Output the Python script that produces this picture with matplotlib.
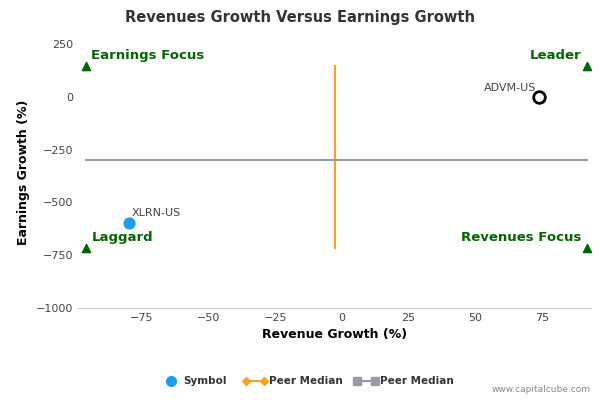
import numpy as np
import matplotlib.pyplot as plt

symbols = ["XLRN-US", "ADVM-US"]
revenue_growth = [-80, 74]
earnings_growth = [-597, 0]
peer_median_x = -2.5
peer_median_y = -297
x_range = [-96, 92]
y_range = [-717, 145]
xticks = [-75, -50, -25, 0, 25, 50, 75]
yticks = [250, 0, -250, -500, -750, -1000]

fig = plt.figure(figsize=(6, 4), dpi=100)
ax = fig.add_axes([0.13, 0.23, 0.855, 0.68])
green = "#006600"

ax.plot([peer_median_x, peer_median_x], y_range, color="#FFA020", lw=1.5, zorder=2)
ax.plot(x_range, [peer_median_y, peer_median_y], color="#9A9AA6", lw=1.5, zorder=2)

ax.scatter([revenue_growth[0]], [earnings_growth[0]], s=60, color="#1E9DEB", zorder=3)
ax.scatter([revenue_growth[1]], [earnings_growth[1]], s=70, facecolor="white",
           edgecolor="black", linewidth=2, zorder=3)
ax.text(revenue_growth[0] + 1, earnings_growth[0] + 25, symbols[0], fontsize=8, color="#444444", va="bottom")
ax.text(revenue_growth[1] - 1, earnings_growth[1] + 20, symbols[1], fontsize=8, color="#444444", va="bottom", ha="right")

corners = [(x_range[0], y_range[1]), (x_range[1], y_range[1]), (x_range[0], y_range[0]), (x_range[1], y_range[0])]
for cx, cy in corners:
    ax.scatter([cx], [cy], marker="^", s=35, color=green, zorder=3)
ax.text(x_range[0] + 2, y_range[1] + 18, "Earnings Focus", color=green, fontsize=9.5, fontweight="bold", va="bottom")
ax.text(x_range[1] - 2, y_range[1] + 18, "Leader", color=green, fontsize=9.5, fontweight="bold", va="bottom", ha="right")
ax.text(x_range[0] + 2, y_range[0] + 18, "Laggard", color=green, fontsize=9.5, fontweight="bold", va="bottom")
ax.text(x_range[1] - 2, y_range[0] + 18, "Revenues Focus", color=green, fontsize=9.5, fontweight="bold", va="bottom", ha="right")

ax.set_xlim(-99, 93.5)
ax.set_ylim(-1000, 288)
ax.set_xticks(xticks)
ax.set_yticks(yticks)
ax.tick_params(labelsize=8, colors="#444444", length=0)
for s in ["top", "right", "left"]:
    ax.spines[s].set_visible(False)
ax.spines["bottom"].set_color("#C0D0E0")
ax.set_xlabel("Revenue Growth (%)", fontsize=9, fontweight="bold")
ax.set_ylabel("Earnings Growth (%)", fontsize=9, fontweight="bold")
fig.suptitle("Revenues Growth Versus Earnings Growth", fontsize=10.5, fontweight="bold", color="#333333", y=0.975)

# legend
fig.lines.append(plt.Line2D([0.285], [0.048], marker="o", color="#1E9DEB", markersize=7, transform=fig.transFigure))
fig.text(0.305, 0.048, "Symbol", fontsize=7.5, fontweight="bold", va="center", color="#333333")
fig.lines.append(plt.Line2D([0.41, 0.44], [0.048, 0.048], marker="D", color="#FFA020", markersize=4, transform=fig.transFigure))
fig.text(0.448, 0.048, "Peer Median", fontsize=7.5, fontweight="bold", va="center", color="#333333")
fig.lines.append(plt.Line2D([0.595, 0.625], [0.048, 0.048], marker="s", color="#9A9AA6", markersize=6, transform=fig.transFigure))
fig.text(0.633, 0.048, "Peer Median", fontsize=7.5, fontweight="bold", va="center", color="#333333")
fig.text(0.985, 0.02, "www.capitalcube.com", fontsize=6.5, color="#888888", ha="right")

fig.savefig("out.png")
